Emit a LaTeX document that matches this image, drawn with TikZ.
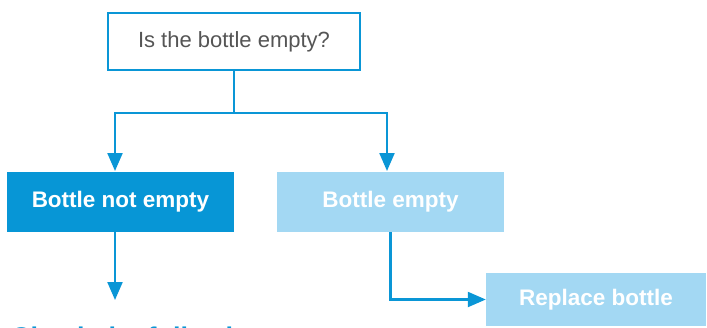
\documentclass[tikz,border=0pt]{standalone}
\usepackage{fontspec}
\setmainfont{Liberation Sans}
\usepackage{xcolor}
\usetikzlibrary{positioning,calc,arrows.meta}

\definecolor{lineblue}{HTML}{0A96D6}
\definecolor{darkbox}{HTML}{0796D6}
\definecolor{lightbox}{HTML}{A3D8F3}
\definecolor{qgray}{HTML}{555555}

\begin{document}
\begin{tikzpicture}[x=1pt, y=-1pt,
    question/.style={draw=lineblue, line width=2.2pt, fill=white, minimum width=252pt, minimum height=57pt, text=qgray, font=\fontsize{22}{26}\selectfont},
    answer/.style={minimum width=227pt, minimum height=60pt, text=white, font=\fontsize{22.5}{27}\selectfont\bfseries},
    link/.style={draw=lineblue, line width=2.2pt},
    arrow/.style={link, -{Triangle[length=18pt,width=15pt]}}]
    \useasboundingbox (0,0) rectangle (707,327);
    \clip (0,0) rectangle (707,327);

    \node [question] (q) at (234,41.5) {Is the bottle empty?};
    \node [answer, fill=darkbox] (notempty) at (120.5,202) {Bottle not empty};
    \node [answer, fill=lightbox] (empty) at (390.5,202) {Bottle empty};
    \node [answer, fill=lightbox, minimum width=220pt, minimum height=53pt] (replace) at (596,299.5) {Replace bottle};
    \node [anchor=north west, inner sep=0pt, text=lineblue, font=\fontsize{27}{32}\selectfont\bfseries] (check) at (11,327) {Check the following};

    \coordinate (split) at (234,113);
    \coordinate (checktop) at (115,300);
    \draw [link] (q.south) -- (split);
    \draw [arrow] (split) -| (115,171);
    \draw [arrow] (split) -| (387,171);
    \draw [arrow] (notempty.south -| checktop) -- (checktop);
    \draw [arrow] (empty.south) |- (replace.west);
\end{tikzpicture}
\end{document}
